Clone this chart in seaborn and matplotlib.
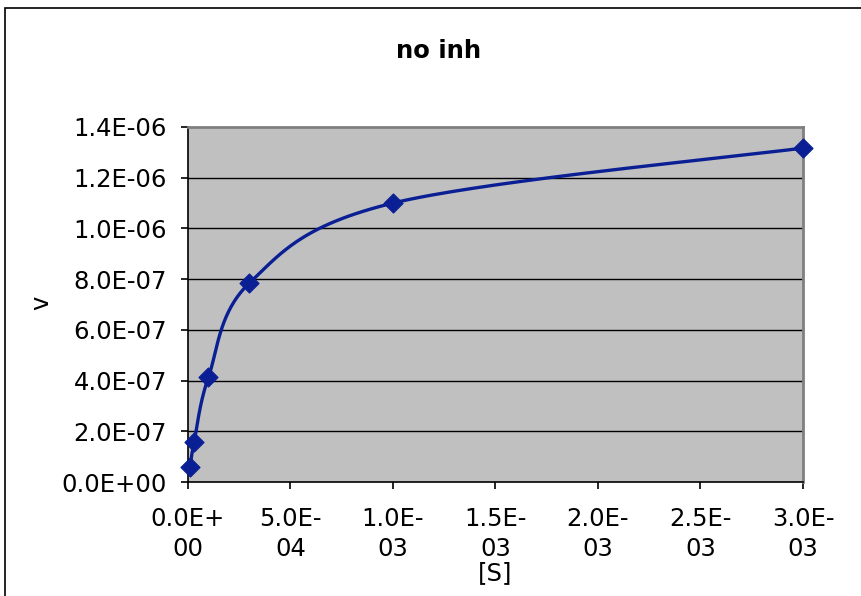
import numpy as np
import pandas as pd
import matplotlib
matplotlib.use("Agg")
import matplotlib.pyplot as plt
from matplotlib.patches import Rectangle
import seaborn as sns

# Substrate concentration and measured rate (no inhibitor)
substrate = [1e-5, 3e-5, 1e-4, 3e-4, 1e-3, 3e-3]
rate = [5.9e-8, 1.58e-7, 4.14e-7, 7.85e-7, 1.10e-6, 1.317e-6]

x_ticks = [0, 5e-4, 1e-3, 1.5e-3, 2e-3, 2.5e-3, 3e-3]
x_tick_labels = ["0.0E+\n00", "5.0E-\n04", "1.0E-\n03", "1.5E-\n03",
                 "2.0E-\n03", "2.5E-\n03", "3.0E-\n03"]
y_ticks = [0, 2e-7, 4e-7, 6e-7, 8e-7, 1.0e-6, 1.2e-6, 1.4e-6]
y_tick_labels = ["0.0E+00", "2.0E-07", "4.0E-07", "6.0E-07", "8.0E-07",
                 "1.0E-06", "1.2E-06", "1.4E-06"]

LINE = "#0b1f94"
FS = 17.5


def smooth_path(xs, ys, steps=60):
    """Catmull-Rom style smoothed line through the measured points."""
    px = np.asarray(xs, float)
    py = np.asarray(ys, float)
    # normalise so the smoothing behaves the same along both axes
    sx = px / 3e-3
    sy = py / 1.4e-6
    P = np.column_stack([sx, sy])
    P = np.vstack([P[0], P, P[-1]])
    out = []
    for i in range(1, len(P) - 2):
        p0, p1, p2, p3 = P[i - 1], P[i], P[i + 1], P[i + 2]
        c1 = p1 + (p2 - p0) / 6.0
        c2 = p2 - (p3 - p1) / 6.0
        t = np.linspace(0, 1, steps)[:, None]
        seg = ((1 - t) ** 3) * p1 + 3 * ((1 - t) ** 2) * t * c1 \
            + 3 * (1 - t) * t ** 2 * c2 + t ** 3 * p2
        out.append(seg if i == 1 else seg[1:])
    out = np.vstack(out)
    return out[:, 0] * 3e-3, out[:, 1] * 1.4e-6


sns.set_style("white")
plt.rcParams["font.family"] = ["DejaVu Sans"]
plt.rcParams["text.color"] = "#000000"
plt.rcParams["axes.labelcolor"] = "#000000"
plt.rcParams["xtick.color"] = "#000000"
plt.rcParams["ytick.color"] = "#000000"

fig = plt.figure(figsize=(8.62, 5.96), dpi=100)
ax = fig.add_axes([188 / 862, 1 - 482 / 596, 615 / 862, 355 / 596])
ax.set_facecolor("#c0c0c0")

# chart area outline
fig.patches.append(Rectangle((5 / 862, -0.05), 1.2, 1 - 8 / 596 + 0.05,
                             transform=fig.transFigure, fill=False,
                             edgecolor="#000000", linewidth=1.2))

cx, cy = smooth_path(substrate, rate)
curve = pd.DataFrame({"S": cx, "v": cy})
points = pd.DataFrame({"S": substrate, "v": rate})

sns.lineplot(data=curve, x="S", y="v", ax=ax, color=LINE, linewidth=2.4,
             sort=False, estimator=None, zorder=3)
sns.scatterplot(data=points, x="S", y="v", ax=ax, marker="D", s=95,
                color=LINE, edgecolor=LINE, zorder=4, clip_on=False)

ax.set_xlim(0, 3e-3)
ax.set_ylim(0, 1.4e-6)
ax.set_xticks(x_ticks)
ax.set_xticklabels(x_tick_labels, fontsize=FS, linespacing=1.3)
ax.set_yticks(y_ticks)
ax.set_yticklabels(y_tick_labels, fontsize=FS)

for y in y_ticks[1:-1]:
    ax.axhline(y, color="#000000", linewidth=1.0, zorder=1)

for side in ["top", "right"]:
    ax.spines[side].set_color("#808080")
    ax.spines[side].set_linewidth(2)
for side in ["left", "bottom"]:
    ax.spines[side].set_color("#000000")
    ax.spines[side].set_linewidth(1.2)

ax.tick_params(axis="both", direction="out", length=5, width=1.2,
               color="#000000", left=True, bottom=True)
ax.tick_params(axis="y", pad=10)
ax.tick_params(axis="x", pad=13)

ax.set_xlabel("[S]", fontsize=FS)
ax.xaxis.set_label_coords(0.5, -(561 - 482) / 355)
ax.set_ylabel("")
fig.text(41.5 / 862, 1 - 303 / 596, "v", rotation=90, ha="center",
         va="center", fontsize=FS)
fig.text(438.5 / 862, 1 - 51 / 596, "no inh", ha="center", va="center",
         fontsize=17.5, fontweight="bold")

fig.savefig("out.png", dpi=100)
